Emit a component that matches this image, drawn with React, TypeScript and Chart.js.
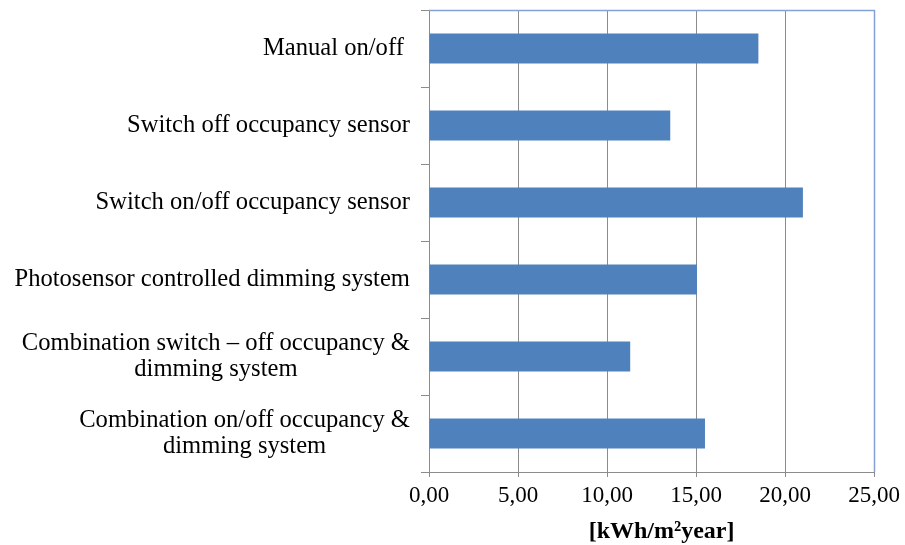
import React, { useEffect, useRef } from 'react';
import { Chart, registerables } from 'chart.js';

Chart.register(...registerables);

const categories: string[][] = [
  ['Manual on/off '],
  ['Switch off occupancy sensor'],
  ['Switch on/off occupancy sensor'],
  ['Photosensor controlled dimming system'],
  ['Combination switch \u2013 off occupancy &', 'dimming system'],
  ['Combination on/off occupancy &', 'dimming system'],
];
const values: number[] = [18.5, 13.55, 21.0, 15.05, 11.3, 15.5];
const xMin = 0;
const xMax = 25;
const xStep = 5;
const axisTitle = '[kWh/m\u00B2year]';

const FONT = '"Liberation Serif", "Times New Roman", serif';
const LABEL_SIZE = 24.6;
const LINE_H = 26;
const GRID = '#8c8c8c';
const FRAME = '#86a2d4';

const labelPlugin = {
  id: 'catLabels',
  afterDraw(chart: any) {
    const ys = chart.scales.y;
    const ctx = chart.ctx as CanvasRenderingContext2D;
    ctx.save();
    ctx.font = `${LABEL_SIZE}px ${FONT}`;
    ctx.fillStyle = '#000';
    ctx.textBaseline = 'middle';
    ctx.textAlign = 'center';
    categories.forEach((lines, i) => {
      const cy = ys.getPixelForValue(i);
      const w = Math.max(...lines.map((l) => ctx.measureText(l).width));
      const right = chart.chartArea.left - 19;
      const cx = right - w / 2;
      lines.forEach((l, j) => {
        const ly = cy + (j - (lines.length - 1) / 2) * LINE_H;
        ctx.fillText(l, cx, ly);
      });
    });
    // axis title
    ctx.font = `bold 24px ${FONT}`;
    ctx.textAlign = 'center';
    ctx.textBaseline = 'middle';
    const { left, right } = chart.chartArea;
    ctx.fillText(axisTitle, (left + right) / 2 + 10, 532);
    ctx.restore();
  },
};

const framePlugin = {
  id: 'frame',
  afterDatasetsDraw(chart: any) {
    const { left, right, top } = chart.chartArea;
    const ctx = chart.ctx as CanvasRenderingContext2D;
    ctx.save();
    ctx.strokeStyle = FRAME;
    ctx.lineWidth = 1.5;
    ctx.beginPath();
    ctx.moveTo(left, Math.round(top) + 0.5);
    ctx.lineTo(Math.round(right) + 0.5, Math.round(top) + 0.5);
    ctx.lineTo(Math.round(right) + 0.5, chart.chartArea.bottom);
    ctx.stroke();
    ctx.restore();
  },
};

export default function App() {
  const ref = useRef<HTMLCanvasElement | null>(null);
  useEffect(() => {
    document.body.style.margin = '0';
    const chart = new Chart(ref.current as HTMLCanvasElement, {
      type: 'bar',
      data: {
        labels: categories.map((c) => c.join(' ')),
        datasets: [
          {
            data: values,
            backgroundColor: '#4f81bd',
            borderWidth: 0,
            categoryPercentage: 1,
            barPercentage: 0.39,
          },
        ],
      },
      options: {
        indexAxis: 'y',
        animation: false,
        responsive: true,
        maintainAspectRatio: false,
        layout: { padding: { left: 0, right: 30, top: 10, bottom: 0 } },
        plugins: { legend: { display: false }, tooltip: { enabled: false } },
        scales: {
          x: {
            type: 'linear',
            min: xMin,
            max: xMax,
            ticks: {
              stepSize: xStep,
              color: '#000',
              font: { family: FONT, size: 23 },
              padding: 5,
              callback: (v: any) => Number(v).toFixed(2).replace('.', ','),
            },
            grid: { color: GRID, lineWidth: 1, drawTicks: true, tickLength: 5 },
            border: { display: true, color: GRID, width: 1 },
            title: { display: false },
            afterFit: (scale: any) => {
              scale.height = 73;
            },
          },
          y: {
            type: 'category',
            ticks: { display: false },
            grid: {
              display: true,
              offset: true,
              drawOnChartArea: false,
              drawTicks: true,
              tickLength: 8,
              color: GRID,
            },
            border: { display: true, color: GRID, width: 1 },
            afterFit: (scale: any) => {
              scale.width = 429;
            },
          },
        },
      },
      plugins: [framePlugin, labelPlugin],
    });
    return () => chart.destroy();
  }, []);
  return (
    <div style={{ position: 'absolute', left: 0, top: 0, width: 905, height: 545, background: '#fff' }}>
      <canvas ref={ref} />
    </div>
  );
}
